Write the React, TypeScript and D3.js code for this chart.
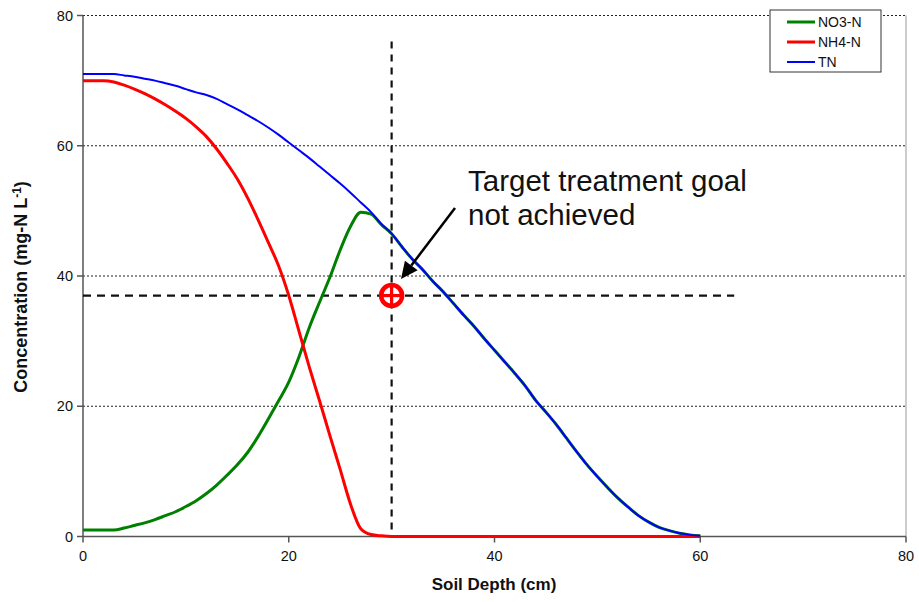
import React from "react";
import * as d3 from "d3";

// Soil depth (cm) at which each profile value was taken
const depth = [
  0, 1, 2, 3, 4, 5, 6, 7, 8, 9, 10, 11, 12, 13, 14, 15, 16, 17, 18, 19, 20,
  21, 22, 23, 24, 25, 26, 27, 28, 29, 30, 31, 32, 33, 34, 35, 36, 37, 38, 39, 40,
  41, 42, 43, 44, 45, 46, 47, 48, 49, 50, 51, 52, 53, 54, 55, 56, 57, 58, 59, 60,
];

// Nitrate-N (mg-N/L)
const no3 = [
  1.0, 1.0, 1.0, 1.0, 1.3, 1.7, 2.1, 2.6, 3.2, 3.8, 4.6, 5.5, 6.6, 7.9, 9.4, 11.0, 12.9, 15.3, 18.0, 20.8, 23.7,
  27.6, 32.1, 36.0, 39.8, 44.0, 47.6, 49.8, 49.5, 47.9, 46.5, 44.5, 42.6, 41.0, 39.2, 37.6, 35.8, 34.0, 32.3, 30.4, 28.6,
  26.8, 25.0, 23.1, 20.9, 19.1, 17.2, 15.1, 13.0, 11.0, 9.2, 7.5, 5.9, 4.5, 3.2, 2.2, 1.4, 0.9, 0.5, 0.25, 0.1,
];

// Ammonium-N (mg-N/L)
const nh4 = [
  70.0, 70.0, 70.0, 69.8, 69.3, 68.7, 68.0, 67.2, 66.3, 65.3, 64.2, 62.9, 61.4, 59.5, 57.3, 54.9, 52.0, 48.7, 45.2, 41.6, 37.0,
  31.5, 26.0, 20.8, 15.5, 10.3, 5.0, 1.2, 0.3, 0.1, 0, 0, 0, 0, 0, 0, 0, 0, 0, 0, 0,
  0, 0, 0, 0, 0, 0, 0, 0, 0, 0, 0, 0, 0, 0, 0, 0, 0, 0, 0, 0,
];

// Total nitrogen (mg-N/L)
const tn = [
  71.0, 71.0, 71.0, 71.0, 70.8, 70.6, 70.3, 70.0, 69.6, 69.2, 68.7, 68.2, 67.8, 67.2, 66.4, 65.6, 64.7, 63.8, 62.8, 61.7, 60.5,
  59.3, 58.1, 56.8, 55.5, 54.2, 52.8, 51.3, 49.8, 48.0, 46.5, 44.5, 42.6, 41.0, 39.2, 37.6, 35.8, 34.0, 32.3, 30.4, 28.6,
  26.8, 25.0, 23.1, 20.9, 19.1, 17.2, 15.1, 13.0, 11.0, 9.2, 7.5, 5.9, 4.5, 3.2, 2.2, 1.4, 0.9, 0.5, 0.25, 0.1,
];

const xTicks = [0, 20, 40, 60, 80];
const yTicks = [0, 20, 40, 60, 80];

const seriesNames = ["NO3-N", "NH4-N", "TN"];
const seriesColors = ["#008000", "#ff0000", "#0000ff"];
const seriesWidths = [3, 3, 2];

// Treatment target: depth (cm) and concentration (mg-N/L)
const targetDepth = 30;
const targetConc = 37;
const targetLineTop = 76;
const targetLineRight = 63.3;
const annotationLines = ["Target treatment goal", "not achieved"];

const W = 919;
const H = 602;
const FONT = "'Liberation Sans', Arial, Helvetica, sans-serif";

export default function App() {
  const left = 83;
  const right = 906;
  const top = 15.5;
  const bottom = 536.5;

  const x = d3.scaleLinear().domain([0, 80]).range([left, right]);
  const y = d3.scaleLinear().domain([0, 80]).range([bottom, top]);

  const series = [no3, nh4, tn];
  const line = d3
    .line<number>()
    .x((_, i) => x(depth[i]))
    .y((v) => y(v))
    .curve(d3.curveMonotoneX);

  // Arrow from the text toward the target point
  const arrowStart: [number, number] = [455, 208];
  const arrowTip: [number, number] = [401, 279];
  const ang = Math.atan2(arrowTip[1] - arrowStart[1], arrowTip[0] - arrowStart[0]);
  const headLen = 17;
  const headHalf = 8;
  const bx = arrowTip[0] - headLen * Math.cos(ang);
  const by = arrowTip[1] - headLen * Math.sin(ang);
  const px = -Math.sin(ang);
  const py = Math.cos(ang);
  const head = [
    [arrowTip[0], arrowTip[1]],
    [bx + headHalf * px, by + headHalf * py],
    [bx - headHalf * px, by - headHalf * py],
  ]
    .map((p) => p.join(","))
    .join(" ");

  const cx = x(targetDepth);
  const cy = y(targetConc);

  return (
    <svg
      width={W}
      height={H}
      viewBox={`0 0 ${W} ${H}`}
      style={{ position: "absolute", left: 0, top: 0, background: "#fff" }}
      fontFamily={FONT}
    >
      <rect width={W} height={H} fill="#fff" />

      {/* horizontal gridlines */}
      {yTicks
        .filter((t) => t > 0)
        .map((t) => (
          <line
            key={`g${t}`}
            x1={left}
            x2={right}
            y1={y(t)}
            y2={y(t)}
            stroke="#222"
            strokeWidth={1}
            strokeDasharray="2,2"
          />
        ))}

      {/* right border of plot area */}
      <line x1={right} x2={right} y1={top} y2={bottom} stroke="#999" strokeWidth={1} />

      {/* y axis */}
      <line x1={left} x2={left} y1={top} y2={bottom} stroke="#555" strokeWidth={1.5} />
      {yTicks.map((t) => (
        <g key={`yt${t}`}>
          <line x1={left - 6} x2={left} y1={y(t)} y2={y(t)} stroke="#555" strokeWidth={1.5} />
          <text x={left - 10} y={y(t)} dy="0.35em" textAnchor="end" fontSize={14.5} fill="#111">
            {t}
          </text>
        </g>
      ))}

      {/* x axis */}
      <line x1={left} x2={right} y1={bottom} y2={bottom} stroke="#555" strokeWidth={1.5} />
      {xTicks.map((t) => (
        <g key={`xt${t}`}>
          <line x1={x(t)} x2={x(t)} y1={bottom} y2={bottom + 6} stroke="#555" strokeWidth={1.5} />
          <text x={x(t)} y={bottom + 24.5} textAnchor="middle" fontSize={14.5} fill="#111">
            {t}
          </text>
        </g>
      ))}

      {/* axis titles */}
      <text x={494} y={590} textAnchor="middle" fontSize={17} fontWeight="bold" fill="#111">
        Soil Depth (cm)
      </text>
      <text
        transform={`translate(27, 287) rotate(-90)`}
        textAnchor="middle"
        fontSize={18}
        fontWeight="bold"
        fill="#111"
      >
        Concentration (mg-N L
        <tspan dy="-6" fontSize={12}>-1</tspan>
        <tspan dy="6">)</tspan>
      </text>

      {/* target guide lines */}
      <line
        x1={x(targetDepth)}
        x2={x(targetDepth)}
        y1={y(targetLineTop)}
        y2={y(0)}
        stroke="#111"
        strokeWidth={2.2}
        strokeDasharray="7,6"
      />
      <line
        x1={x(0)}
        x2={x(targetLineRight)}
        y1={y(targetConc)}
        y2={y(targetConc)}
        stroke="#111"
        strokeWidth={2.2}
        strokeDasharray="8,6"
      />

      {/* data series */}
      {series.map((vals, i) => (
        <path
          key={seriesNames[i]}
          d={line(vals) ?? ""}
          fill="none"
          stroke={seriesColors[i]}
          strokeWidth={seriesWidths[i]}
          strokeLinejoin="round"
        />
      ))}

      {/* target marker */}
      <g stroke="#ff0000" fill="none">
        <circle cx={cx} cy={cy} r={10.5} strokeWidth={4.5} fill="#fff" />
        <line x1={cx - 10} x2={cx + 10} y1={cy} y2={cy} strokeWidth={3.2} />
        <line x1={cx} x2={cx} y1={cy - 10} y2={cy + 10} strokeWidth={3.2} />
      </g>

      {/* annotation */}
      <line
        x1={arrowStart[0]}
        y1={arrowStart[1]}
        x2={bx}
        y2={by}
        stroke="#000"
        strokeWidth={2.5}
      />
      <polygon points={head} fill="#000" />
      {annotationLines.map((s, i) => (
        <text key={s} x={468} y={191 + i * 34} fontSize={29.5} fill="#111">
          {s}
        </text>
      ))}

      {/* legend */}
      <g>
        <rect x={770} y={10} width={111} height={62} fill="#fff" stroke="#333" strokeWidth={1} />
        {seriesNames.map((n, i) => (
          <g key={`lg${n}`}>
            <line
              x1={787}
              x2={815}
              y1={22 + i * 20}
              y2={22 + i * 20}
              stroke={seriesColors[i]}
              strokeWidth={seriesWidths[i]}
            />
            <text x={818} y={22 + i * 20} dy="0.35em" fontSize={14} fill="#111">
              {n}
            </text>
          </g>
        ))}
      </g>
    </svg>
  );
}
